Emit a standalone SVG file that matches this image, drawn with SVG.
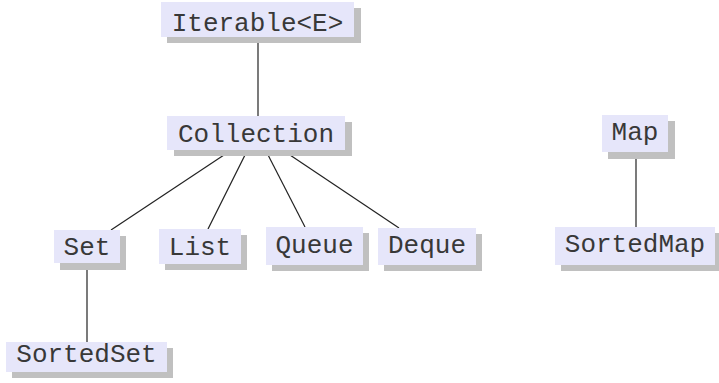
<svg xmlns="http://www.w3.org/2000/svg" width="719" height="383" viewBox="0 0 719 383">
<style>
.sh{fill:#c0c0c0}
.bx{fill:#e6e6fa}
.t{font-family:"Liberation Mono","Courier New",monospace;font-size:26px;fill:#383838;text-anchor:middle}
.c line{stroke:#222;stroke-width:1.2}
</style>
<rect width="719" height="383" fill="#fff"/>
<g class="c" id="connectors">
<line x1="258" y1="37" x2="258" y2="117"/>
<line x1="230" y1="151" x2="111" y2="230"/>
<line x1="247" y1="151" x2="208" y2="229"/>
<line x1="266" y1="151" x2="305" y2="227"/>
<line x1="284" y1="151" x2="399" y2="228"/>
<line x1="87" y1="263" x2="87" y2="342"/>
<line x1="636" y1="152" x2="636" y2="227"/>
</g>
<g id="iterable"><rect class="sh" x="167" y="8" width="194" height="35"/><rect class="bx" x="161" y="2" width="193" height="35"/><text class="t" x="257.5" y="31">Iterable&lt;E&gt;</text></g>
<g id="collection"><rect class="sh" x="174" y="122" width="178" height="34"/><rect class="bx" x="167" y="116" width="178" height="34"/><text class="t" x="256" y="142">Collection</text></g>
<g id="set"><rect class="sh" x="60" y="236" width="66" height="34"/><rect class="bx" x="54" y="230" width="66" height="33"/><text class="t" x="87" y="255">Set</text></g>
<g id="list"><rect class="sh" x="165" y="235" width="82" height="35"/><rect class="bx" x="159" y="229" width="82" height="35"/><text class="t" x="200" y="255">List</text></g>
<g id="queue"><rect class="sh" x="272" y="233" width="97" height="38"/><rect class="bx" x="266" y="227" width="97" height="38"/><text class="t" x="314.5" y="253">Queue</text></g>
<g id="deque"><rect class="sh" x="384" y="234" width="98" height="37"/><rect class="bx" x="378" y="228" width="98" height="37"/><text class="t" x="427" y="253">Deque</text></g>
<g id="sortedset"><rect class="sh" x="12" y="348" width="161" height="30"/><rect class="bx" x="6" y="342" width="161" height="30"/><text class="t" x="86.5" y="362">SortedSet</text></g>
<g id="map"><rect class="sh" x="608" y="121" width="67" height="38"/><rect class="bx" x="602" y="115" width="66" height="37"/><text class="t" x="635" y="140">Map</text></g>
<g id="sortedmap"><rect class="sh" x="561" y="233" width="160" height="38"/><rect class="bx" x="555" y="227" width="160" height="38"/><text class="t" x="635" y="252">SortedMap</text></g>
</svg>
